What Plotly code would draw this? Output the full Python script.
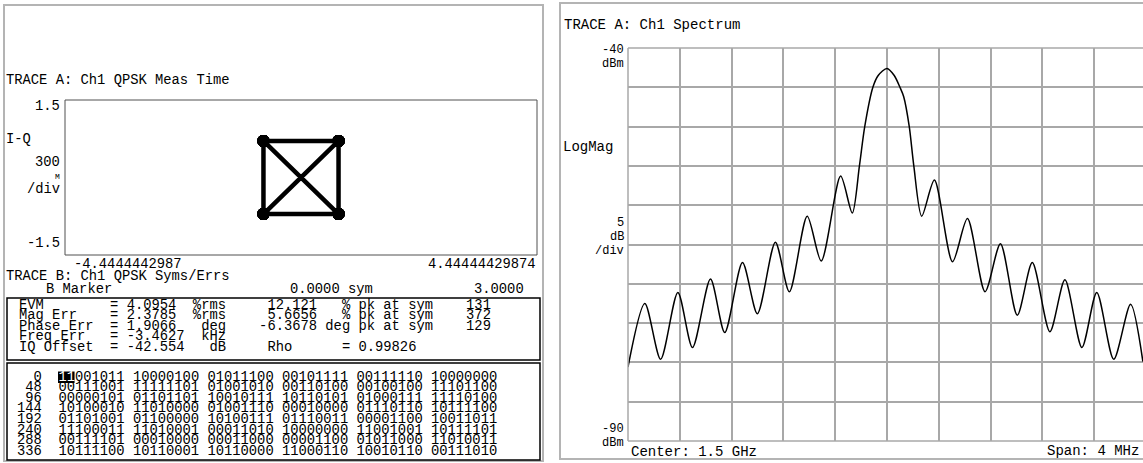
import plotly.graph_objects as go

W, H = 1143, 463

# ---------------- Trace A (left): I-Q measurement time ----------------
iq_x_limits = [-4.4444442987, 4.44444429874]
iq_y_limits = [-1.5, 1.5]
iq_level = 0.707          # QPSK symbol amplitude on each axis

# ---------------- Trace B: demodulated bits (48 bits per row) ----------------
bit_row_starts = [0, 48, 96, 144, 192, 240, 288, 336]
bit_rows = [
    ["11001011", "10000100", "01011100", "00101111", "00111110", "10000000"],
    ["00111001", "11111101", "01001010", "00110100", "00100100", "11101100"],
    ["00000101", "01101101", "10010111", "10110101", "01000111", "11110100"],
    ["10100010", "11010000", "01001110", "00010000", "01110110", "10111100"],
    ["01101001", "01100000", "10100111", "01110011", "00001100", "10011011"],
    ["11100011", "11010001", "00011010", "10000000", "11001001", "10111101"],
    ["00111101", "00010000", "00011000", "00001100", "01011000", "11010011"],
    ["10111100", "10110001", "10110000", "11000110", "10010110", "00111010"],
]

# ---------------- Error summary ----------------
err_names = ["EVM", "Mag Err", "Phase Err", "Freq Err", "IQ Offset"]
err_values = ["4.0954", "2.3785", "1.9066", "-3.4627", "-42.554"]
err_units = ["%rms", "%rms", "deg", "kHz", "dB"]
err_peaks = ["12.121", "5.6656", "-6.3678"]
err_peak_units = ["% pk at sym", "% pk at sym", "deg pk at sym"]
err_peak_syms = ["131", "372", "129"]
rho_value = "0.99826"
marker_label, marker_pos, marker_value = "B Marker", "0.0000 sym", "3.0000"

# ---------------- Trace A (right): channel spectrum ----------------
center_label, span_label = "Center: 1.5 GHz", "Span: 4 MHz"
span_mhz = 4.0
ref_dbm, bottom_dbm, db_per_div = -40, -90, 5
freq_offset_mhz = [
    -2.000, -1.870, -1.748, -1.615, -1.502, -1.363, -1.253, -1.116, -1.001,
    -0.862, -0.754, -0.616, -0.508, -0.358, -0.268, -0.213, -0.172, -0.109,
    -0.068, 0.000, 0.056, 0.100, 0.129, 0.172, 0.207, 0.268, 0.366, 0.506,
    0.621, 0.757, 0.876, 1.006, 1.122, 1.258, 1.374, 1.505, 1.620, 1.751,
    1.881, 1.976,
]
level_dbm = [
    -80.6, -72.5, -79.6, -71.1, -78.1, -69.4, -76.2, -67.3, -73.8,
    -64.7, -71.0, -61.4, -67.1, -56.3, -61.0, -55.0, -50.0, -45.0,
    -43.5, -42.6, -43.5, -45.0, -46.2, -50.0, -55.0, -61.4, -56.8, -67.2,
    -61.7, -71.0, -64.9, -74.0, -67.3, -76.1, -69.5, -78.1, -71.1, -79.6,
    -72.6, -79.9,
]

# ---------------------------------------------------------------------
FONT = "Liberation Mono, DejaVu Sans Mono, monospace"
FS = 13.8                # instrument text, left screen
FS_R = 14                # instrument text, right screen
FS_AX = 12               # stacked scale annotations, right screen
CW = 0.6 * FS            # monospace advance


def px(x):
    return x / W


def py(y):
    return 1 - y / H


annotations = []


def text(s, x, y, anchor="left", size=FS, color="black", **kw):
    annotations.append(dict(
        text=s, x=px(x), y=py(y), xref="paper", yref="paper",
        xanchor=anchor, yanchor="middle", showarrow=False, borderpad=0,
        font=dict(family=FONT, size=size, color=color), **kw))


def columns(fields):
    """Lay out (column, string) pairs on one fixed-pitch line."""
    buf = [" "] * 80
    for col, s in fields:
        for i, ch in enumerate(s):
            buf[col + i] = ch
    return "".join(buf).rstrip()


shapes = []


def rect(x0, y0, x1, y1, color, width, fill="rgba(0,0,0,0)"):
    shapes.append(dict(type="rect", xref="paper", yref="paper",
                       x0=px(x0), x1=px(x1), y0=py(y1), y1=py(y0),
                       line=dict(color=color, width=width),
                       fillcolor=fill, layer="above"))


def hline(x0, x1, y, color, width):
    shapes.append(dict(type="line", xref="paper", yref="paper",
                       x0=px(x0), x1=px(x1), y0=py(y), y1=py(y),
                       line=dict(color=color, width=width), layer="above"))


def vline(x, y0, y1, color, width):
    shapes.append(dict(type="line", xref="paper", yref="paper",
                       x0=px(x), x1=px(x), y0=py(y0), y1=py(y1),
                       line=dict(color=color, width=width), layer="above"))


# symbol trajectory from the bit stream: 2 bits per QPSK symbol
bits = "".join("".join(r) for r in bit_rows)
sym_i = [iq_level if bits[k] == "0" else -iq_level for k in range(0, len(bits), 2)]
sym_q = [iq_level if bits[k + 1] == "0" else -iq_level for k in range(0, len(bits), 2)]

fig = go.Figure()
fig.add_trace(go.Scatter(
    x=sym_i, y=sym_q, xaxis="x", yaxis="y", mode="lines+markers",
    line=dict(color="black", width=4.5),
    marker=dict(color="black", size=12),
    hoverinfo="skip", showlegend=False))

fig.add_trace(go.Scatter(
    x=freq_offset_mhz, y=level_dbm, xaxis="x2", yaxis="y2", mode="lines",
    line=dict(color="black", width=1.5, shape="spline", smoothing=0.8),
    hoverinfo="skip", showlegend=False))

# spectrum plot: 10 divisions from 628 px to 1146 px (right edge falls off screen)
spec_left, spec_right, spec_top, spec_bot = 628, 1146, 48, 441
x2_end = -span_mhz / 2 + span_mhz * (W - spec_left) / (spec_right - spec_left)

GRID = "#a8a8a8"
fig.update_layout(
    width=W, height=H, margin=dict(l=0, r=0, t=0, b=0),
    paper_bgcolor="white", plot_bgcolor="white", showlegend=False,
    xaxis=dict(domain=[px(65), px(537)], range=iq_x_limits, showgrid=False,
               zeroline=False, showticklabels=False, ticks="", fixedrange=True),
    yaxis=dict(domain=[py(255), py(100)], range=iq_y_limits, showgrid=False,
               zeroline=False, showticklabels=False, ticks="", fixedrange=True),
    xaxis2=dict(domain=[px(spec_left), 1], range=[-span_mhz / 2, x2_end],
                tick0=-span_mhz / 2, dtick=span_mhz / 10, showgrid=True,
                gridcolor=GRID, gridwidth=1.5, zeroline=False,
                showticklabels=False, ticks="", anchor="y2", fixedrange=True),
    yaxis2=dict(domain=[py(spec_bot), py(spec_top)], range=[bottom_dbm, ref_dbm],
                tick0=bottom_dbm, dtick=db_per_div, showgrid=True,
                gridcolor=GRID, gridwidth=1.5, zeroline=False,
                showticklabels=False, ticks="", anchor="x2", fixedrange=True),
)

# ---------------- frames ----------------
rect(4, 5, 543, 461, "#b4b4b4", 2)          # left panel
rect(65, 100, 537, 255, "#505050", 1)       # I-Q box
rect(7, 298, 540, 360, "black", 1.5)        # error summary box
rect(7, 363, 540, 460, "black", 1.5)        # bit table box
rect(560, 3, 1160, 459, "#b4b4b4", 2)       # right panel
hline(spec_left, W, spec_top, GRID, 1.5)
hline(spec_left, W, spec_bot, GRID, 1.5)
vline(spec_left, spec_top, spec_bot, GRID, 1.5)

# ---------------- left panel text ----------------
text("TRACE A: Ch1 QPSK Meas Time", 5, 80)
text("1.5", 61, 106, "right")
text("I-Q", 5, 139)
text("300", 61, 163, "right")
text("M", 61, 176, "right", size=8)
text("/div", 61, 189, "right")
text("-1.5", 61, 243, "right")
text(f"{iq_x_limits[0]:.10f}", 73, 264)
text(f"{iq_x_limits[1]:.11f}", 537, 264, "right")
text("TRACE B: Ch1 QPSK Syms/Errs", 5, 276)
text(marker_label, 45, 289)
text(marker_pos, 289, 289)
text(marker_value, 525, 289, "right")

# error summary, one fixed-pitch line per row
row_y = [305, 315.5, 326, 336.5, 347]
for k, name in enumerate(err_names):
    unit = err_units[k]
    fields = [(0, name), (11, "= " + err_values[k]), (25 - len(unit), unit)]
    if k < len(err_peaks):
        pk = err_peaks[k]
        fields.append((29 if pk.startswith("-") else 30, pk))
        fields.append((50 - len(err_peak_units[k]), err_peak_units[k]))
        fields.append((54, err_peak_syms[k]))
    elif name == "IQ Offset":
        fields += [(30, "Rho"), (39, "= " + rho_value)]
    text(columns(fields), 18, row_y[k])

# bit table, one fixed-pitch line per row; the first symbol is shown inverted
bits_x0 = 57 - 5 * CW
rect(bits_x0 + 1 + 5 * CW, 371.5, bits_x0 + 1 + 7 * CW, 383, "black", 0, "black")
for r, (start, groups) in enumerate(zip(bit_row_starts, bit_rows)):
    line = " ".join(groups)
    if r == 0:
        line = f'<span style="color:white">{line[:2]}</span>{line[2:]}'
    text(f"{start:>3}  " + line, bits_x0, 377 + r * 10.6)

# ---------------- right panel text ----------------
text("TRACE A: Ch1 Spectrum", 563, 25, size=FS_R)
text(str(ref_dbm), 625, 50, "right", size=FS_AX)
text("dBm", 625, 64, "right", size=FS_AX)
text("LogMag", 562, 147, size=FS_R)
text(str(db_per_div), 625, 223, "right", size=FS_AX)
text("dB", 625, 237, "right", size=FS_AX)
text("/div", 625, 251, "right", size=FS_AX)
text(str(bottom_dbm), 625, 429, "right", size=FS_AX)
text("dBm", 625, 443, "right", size=FS_AX)
text(center_label, 630, 452, size=FS_R)
text(span_label, 1046, 451, size=FS_R)

fig.update_layout(annotations=annotations, shapes=shapes)
fig.write_html("out.html", config={"displayModeBar": False})
